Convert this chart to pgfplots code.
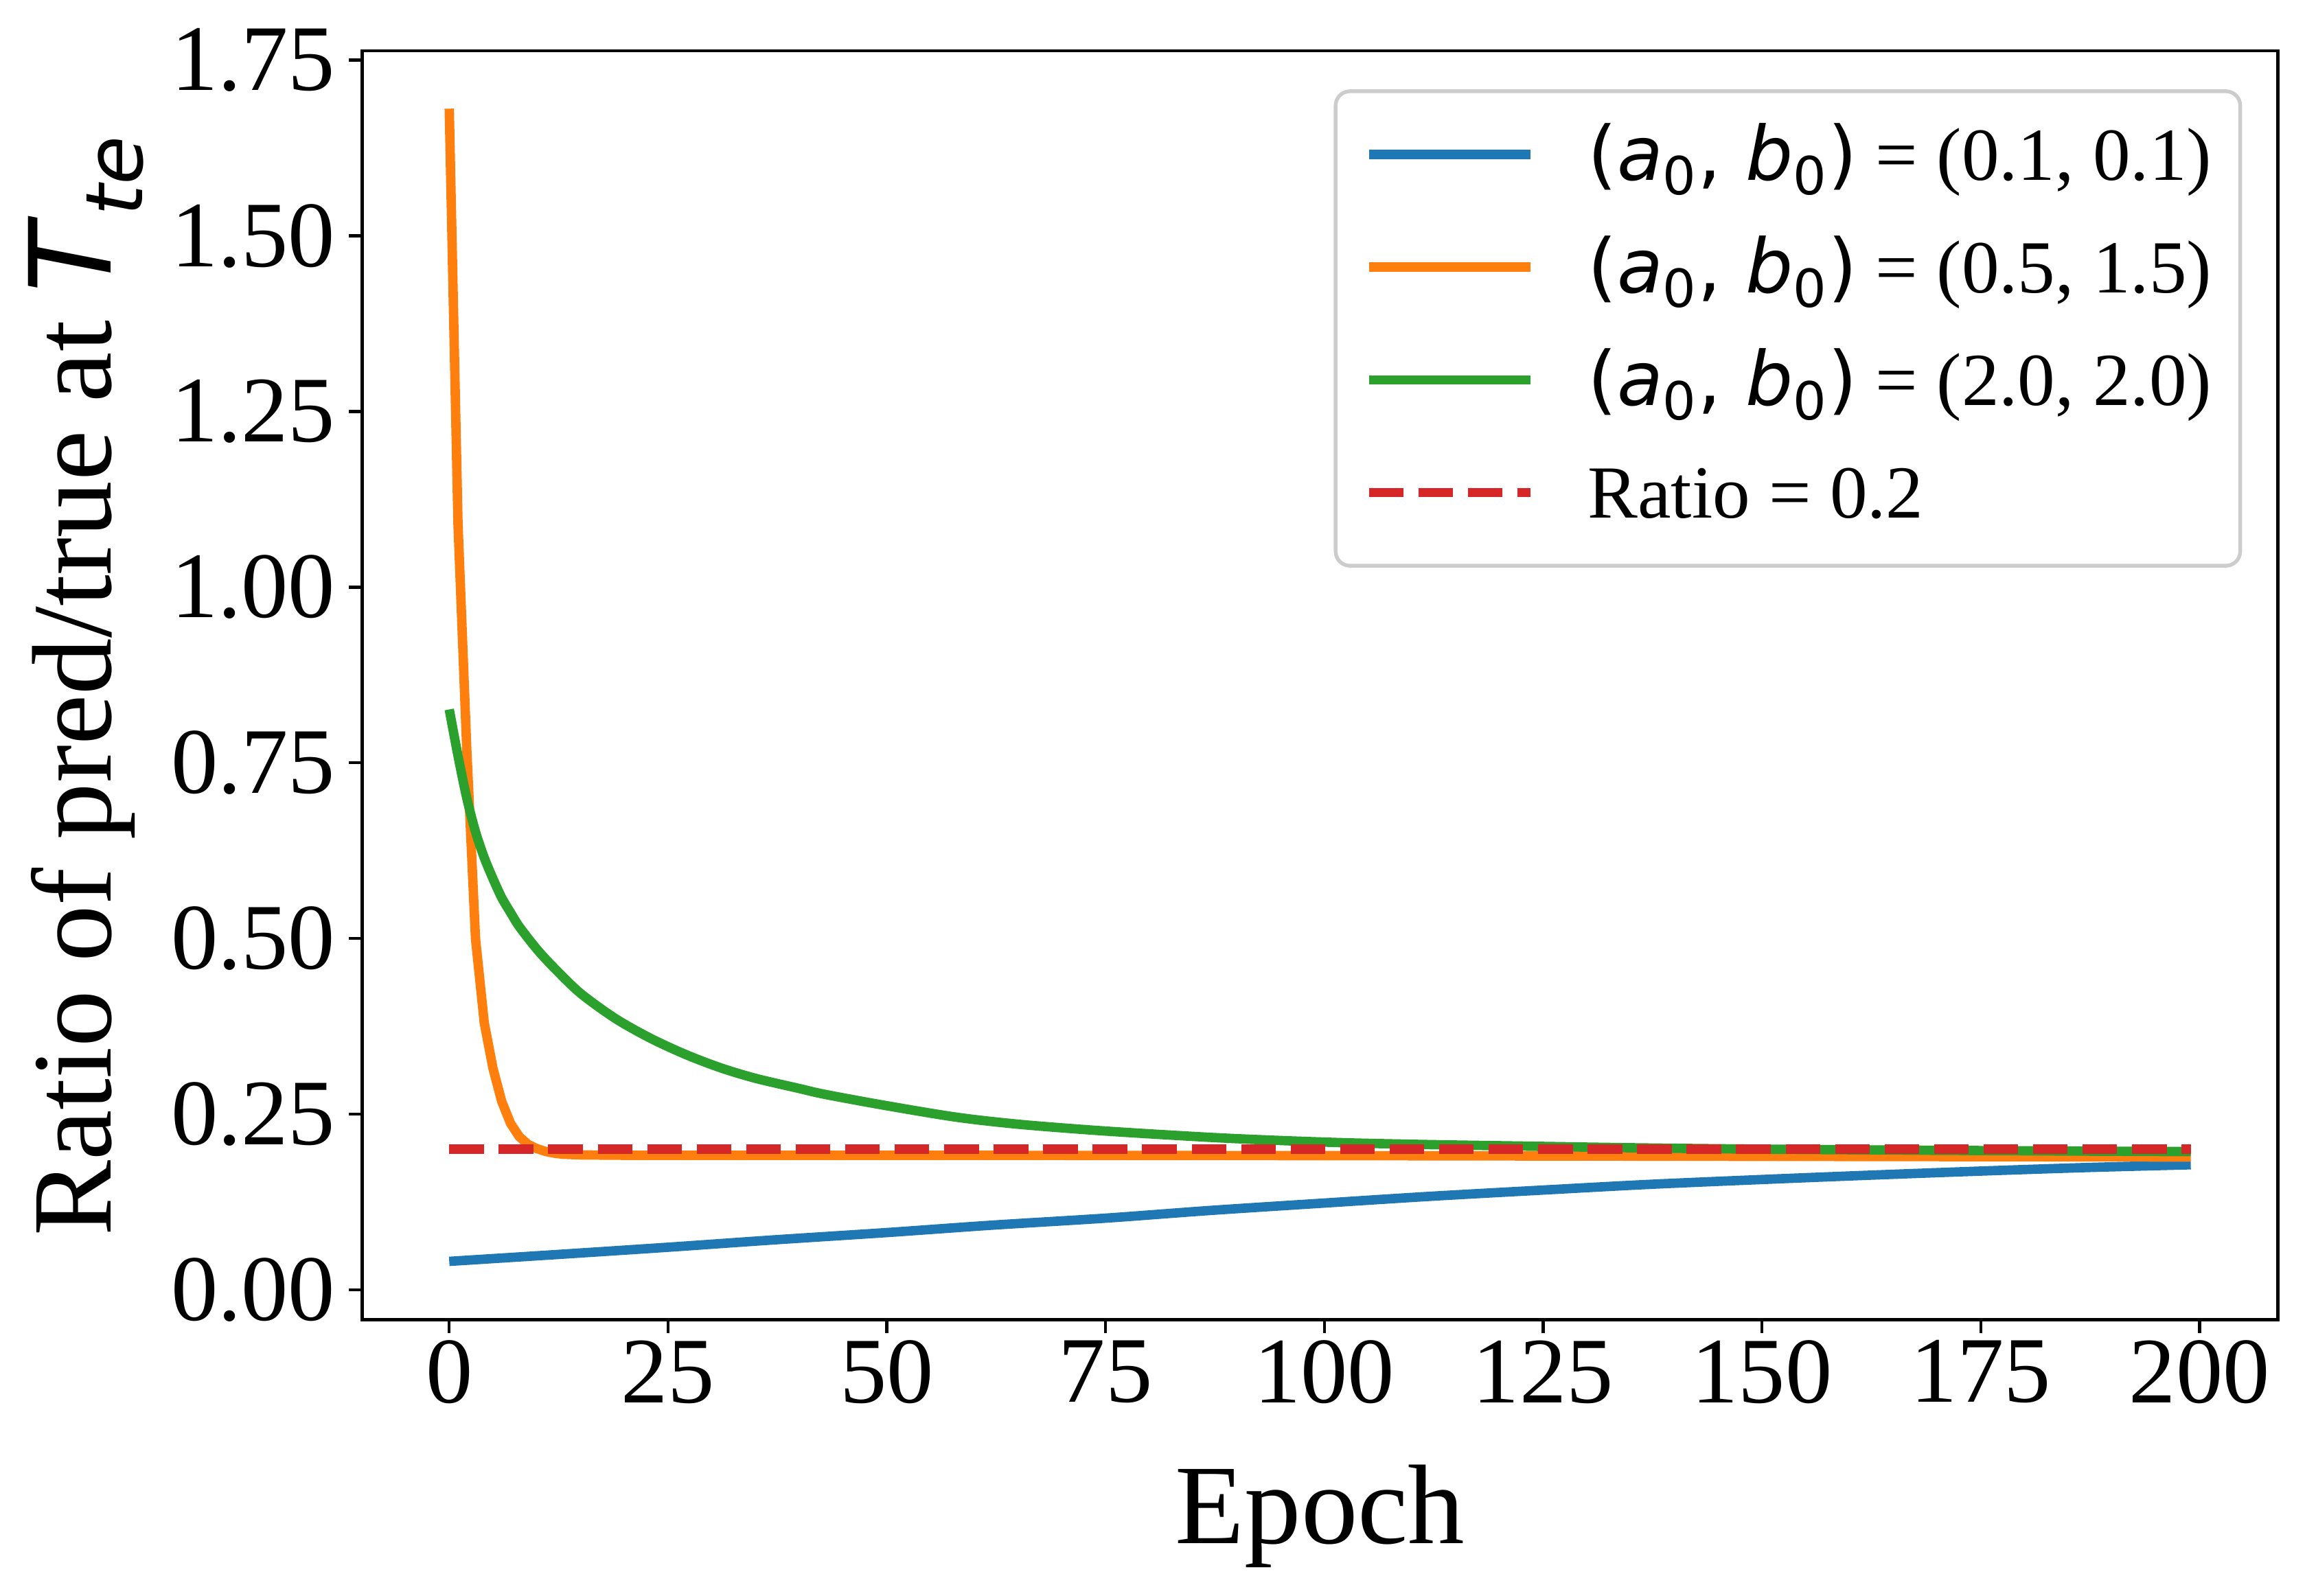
\documentclass[border=0pt]{standalone}
\usepackage{fontspec}
\setmainfont{Liberation Serif}
\newfontfamily\djs{DejaVu Sans}
\usepackage{pgfplots}
\pgfplotsset{compat=1.18}
\definecolor{tabblue}{HTML}{1F77B4}
\definecolor{taborange}{HTML}{FF7F0E}
\definecolor{tabgreen}{HTML}{2CA02C}
\definecolor{tabred}{HTML}{D62728}
\definecolor{legedge}{gray}{0.8}
\newcommand{\ab}{{\djs(\textit{a}\textsubscript{0}, \textit{b}\textsubscript{0})}}
\begin{document}
\begin{tikzpicture}
\begin{axis}[
  scale only axis, width=669.6pt, height=443.7pt,
  xmin=-9.95, xmax=208.95, ymin=-0.0427, ymax=1.7634,
  xtick={0,25,...,200}, ytick={0,0.25,0.5,0.75,1,1.25,1.5,1.75},
  yticklabel style={/pgf/number format/fixed, /pgf/number format/fixed zerofill, /pgf/number format/precision=2},
  /pgf/number format/assume math mode=true,
  tick label style={font=\fontsize{32.8}{38}\selectfont, inner sep=0pt},
  xticklabel style={yshift=-2.4pt},
  yticklabel style={xshift=-4.6pt},
  tick align=outside, major tick length=4.6pt, xtick pos=left, ytick pos=left,
  every tick/.style={black, line width=1.05pt},
  axis line style={line width=1.05pt},
  xlabel={Epoch},
  ylabel={Ratio of pred/true at {\djs\textit{T}\textsubscript{\textit{te}}}},
  label style={font=\fontsize{39.6}{45}\selectfont, inner sep=0pt},
  xlabel style={at={(axis description cs:0.5,-0.1761)}, anchor=base},
  ylabel style={at={(axis description cs:-0.1311,0.5)}, anchor=base},
  legend cell align=left,
  legend image code/.code={\draw[#1] (0pt,1.75pt) -- (56.4pt,1.75pt); \path[draw=none,fill=none] (0pt,-4pt) rectangle (76.5pt,4pt);},
  legend style={
    at={(axis description cs:1,1)}, anchor=north east, xshift=-12.5pt, yshift=-13.5pt,
    draw=legedge, line width=1.3pt, rounded corners=5pt, fill=white,
    font=\fontsize{26.2}{30}\selectfont,
    inner xsep=10pt, inner ysep=5pt, row sep=1.7pt,
    nodes={inner sep=0pt, text height=26pt, text depth=11.7pt},
  },
  every axis plot/.append style={line width=3.28pt},
]
\addplot[tabblue, smooth] coordinates {(0,0.0405)(12,0.050)(25,0.0606)(37,0.071)(50,0.0815)(62,0.092)(75,0.102)(87,0.113)(100,0.1235)(112,0.133)(125,0.142)(137,0.150)(150,0.157)(162,0.163)(175,0.169)(187,0.174)(199,0.178)};
\addlegendentry{\ab{} = (0.1, 0.1)\hspace{2.5pt}}
\addplot[taborange] coordinates {(0,1.681)(1,1.09)(2,0.77)(3,0.50)(4,0.38)(5,0.315)(6,0.268)(7,0.237)(8,0.218)(9,0.207)(10,0.201)(11,0.197)(12,0.1945)(13,0.193)(15,0.192)(20,0.1915)(50,0.1915)(100,0.191)(150,0.190)(199,0.189)};
\addlegendentry{\ab{} = (0.5, 1.5)}
\addplot[tabgreen, smooth] coordinates {(0,0.826)(1,0.76)(2,0.70)(3,0.652)(4,0.615)(5,0.585)(6,0.558)(7,0.537)(8,0.517)(10,0.485)(12,0.458)(15,0.422)(19,0.386)(23,0.358)(27,0.335)(31,0.316)(35,0.301)(40,0.2865)(43,0.278)(50,0.262)(58,0.2456)(65,0.2357)(73,0.2277)(80,0.2220)(88,0.2163)(95,0.2125)(103,0.2091)(112,0.2067)(121,0.2049)(135,0.2022)(150,0.2002)(175,0.1982)(199,0.1967)};
\addlegendentry{\ab{} = (2.0, 2.0)}
\addplot[tabred, dash pattern=on 12.1pt off 5.2pt] coordinates {(0,0.2)(199,0.2)};
\addlegendentry{Ratio = 0.2}
\end{axis}
\pgfresetboundingbox
\path (current axis.south west) ++(-126.6pt,-96.55pt) rectangle ++(805.7pt,558pt);
\end{tikzpicture}
\end{document}
